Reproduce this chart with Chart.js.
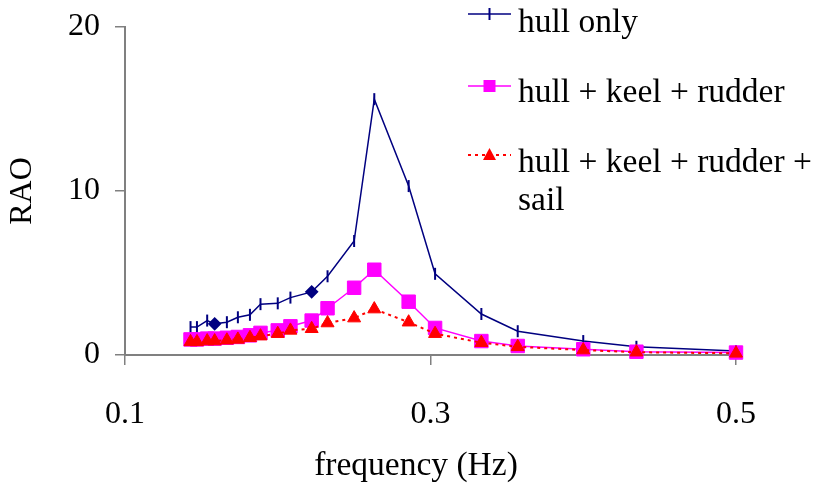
<!DOCTYPE html>
<html>
<head>
<meta charset="utf-8">
<script src="https://cdn.jsdelivr.net/npm/chart.js@4"></script>
<style>
  body { margin: 0; background: #fff; }
  canvas { display: block; }
</style>
</head>
<body>
<canvas id="raoChart" width="816" height="483"></canvas>
<script>
// frequencies (Hz) of the measured points
var frequency = [0.1429, 0.1471, 0.1538, 0.1587, 0.1667, 0.1739, 0.1818, 0.1887, 0.2, 0.2083, 0.2222,
                 0.2326, 0.25, 0.2632, 0.2857, 0.303, 0.3333, 0.3571, 0.4, 0.4348, 0.5];
var hullOnly = [1.7, 1.7, 2.1, 1.9, 2.0, 2.3, 2.45, 3.1, 3.15, 3.5, 3.85,
                4.8, 6.95, 15.6, 10.3, 4.95, 2.5, 1.45, 0.85, 0.5, 0.25];
var hullKeelRudder = [0.95, 0.95, 1.0, 1.0, 1.05, 1.1, 1.2, 1.35, 1.5, 1.75, 2.1,
                      2.85, 4.1, 5.2, 3.25, 1.65, 0.85, 0.55, 0.35, 0.2, 0.15];
var hullKeelRudderSail = [0.8, 0.8, 0.85, 0.85, 0.9, 0.95, 1.05, 1.15, 1.3, 1.5, 1.6,
                          1.95, 2.25, 2.8, 2.0, 1.3, 0.75, 0.5, 0.3, 0.17, 0.1];
var seriesNames = ['hull only', 'hull + keel + rudder', ['hull + keel + rudder +', 'sail']];
var xTicks = [0.1, 0.3, 0.5];
var yTicks = [0, 10, 20];
var xTitle = 'frequency (Hz)';
// points drawn as diamonds in the hull only series
var diamondIdx = [3, 10];

var FONT = "'Liberation Serif', 'Times New Roman', serif";
var NAVY = '#000080', PINK = '#FF00FF', RED = '#FF0000';

function toXY(ys) {
    return ys.map(function (v, i) { return { x: frequency[i], y: v }; });
}

var hullStyle = frequency.map(function (f, i) { return diamondIdx.indexOf(i) >= 0 ? 'rectRot' : 'line'; });
var hullRot = frequency.map(function (f, i) { return diamondIdx.indexOf(i) >= 0 ? 0 : 90; });
var hullRad = frequency.map(function (f, i) { return diamondIdx.indexOf(i) >= 0 ? 5.5 : 6; });

// legend drawn on the right, overlapping the plot like the original
var sideLegend = {
    id: 'sideLegend',
    afterDraw: function (chart) {
        var ctx = chart.ctx;
        var symY = [14, 86, 155];
        var baseY = [32, 102, 172];
        ctx.save();
        chart.data.datasets.forEach(function (ds, i) {
            var y = symY[i];
            ctx.beginPath();
            ctx.strokeStyle = ds.borderColor;
            ctx.lineWidth = ds.borderWidth;
            ctx.setLineDash(ds.borderDash || []);
            ctx.moveTo(468, y);
            ctx.lineTo(511, y);
            ctx.stroke();
            ctx.setLineDash([]);
            ctx.fillStyle = ds.borderColor;
            ctx.strokeStyle = ds.borderColor;
            ctx.lineWidth = 2;
            ctx.beginPath();
            if (i === 0) {
                ctx.moveTo(489.5, y - 6);
                ctx.lineTo(489.5, y + 6);
                ctx.stroke();
            } else if (i === 1) {
                ctx.fillRect(483.5, y - 6, 12, 12);
            } else {
                ctx.moveTo(489.5, y - 7);
                ctx.lineTo(496, y + 5);
                ctx.lineTo(483, y + 5);
                ctx.closePath();
                ctx.fill();
            }
            ctx.fillStyle = '#000';
            ctx.font = '33.5px ' + FONT;
            ctx.textAlign = 'left';
            ctx.textBaseline = 'alphabetic';
            var lines = [].concat(seriesNames[i]);
            lines.forEach(function (t, k) {
                ctx.fillText(t, 518, baseY[i] + k * 38);
            });
        });
        // x axis title, sits a little left of the plot centre in the original
        ctx.textAlign = 'center';
        ctx.textBaseline = 'middle';
        ctx.fillText(xTitle, 416, 466);
        ctx.restore();
    }
};

var ctx = document.getElementById('raoChart').getContext('2d');
window.raoChart = new Chart(ctx, {
    type: 'line',
    data: {
        datasets: [
            {
                label: 'hull only',
                data: toXY(hullOnly),
                borderColor: NAVY,
                borderWidth: 1.5,
                pointStyle: hullStyle,
                pointRotation: hullRot,
                pointRadius: hullRad,
                pointBackgroundColor: NAVY,
                pointBorderColor: NAVY,
                pointBorderWidth: 2,
                clip: false,
                order: 3
            },
            {
                label: 'hull + keel + rudder',
                data: toXY(hullKeelRudder),
                borderColor: PINK,
                borderWidth: 1.5,
                pointStyle: 'rect',
                pointRadius: 9.5,
                pointBackgroundColor: PINK,
                pointBorderColor: PINK,
                pointBorderWidth: 1,
                clip: false,
                order: 2
            },
            {
                label: 'hull + keel + rudder + sail',
                data: toXY(hullKeelRudderSail),
                borderColor: RED,
                borderWidth: 2,
                borderDash: [3, 4],
                pointStyle: 'triangle',
                pointRadius: 7.5,
                pointBackgroundColor: RED,
                pointBorderColor: RED,
                pointBorderWidth: 1,
                clip: false,
                order: 1
            }
        ]
    },
    options: {
        responsive: false,
        animation: false,
        layout: { padding: { top: 27, right: 80, left: 0, bottom: 0 } },
        elements: { line: { tension: 0 } },
        plugins: {
            legend: { display: false },
            tooltip: { enabled: false }
        },
        scales: {
            x: {
                type: 'linear',
                min: 0.1,
                max: 0.5,
                afterBuildTicks: function (scale) {
                    scale.ticks = xTicks.map(function (v) { return { value: v }; });
                },
                afterFit: function (scale) {
                    scale.height = 128;
                    scale.paddingLeft = 0;
                    scale.paddingRight = 0;
                },
                ticks: {
                    color: '#000',
                    padding: 30,
                    maxRotation: 0,
                    font: { family: FONT, size: 32 },
                    callback: function (v) { return v.toFixed(1); }
                },
                grid: { drawOnChartArea: false, color: '#808080', tickLength: 10, lineWidth: 1.5 },
                border: { color: '#808080', width: 2 }
            },
            y: {
                min: 0,
                max: 20,
                afterBuildTicks: function (scale) {
                    scale.ticks = yTicks.map(function (v) { return { value: v }; });
                },
                afterFit: function (scale) {
                    scale.width = 125;
                    scale.paddingTop = 0;
                    scale.paddingBottom = 0;
                },
                ticks: {
                    color: '#000',
                    padding: 15,
                    font: { family: FONT, size: 32 }
                },
                grid: { drawOnChartArea: false, color: '#808080', tickLength: 10, lineWidth: 1.5 },
                border: { color: '#808080', width: 2 },
                title: {
                    display: true,
                    text: 'RAO',
                    color: '#000',
                    font: { family: FONT, size: 32, lineHeight: 1.2 },
                    padding: { top: 3, bottom: 0 }
                }
            }
        }
    },
    plugins: [sideLegend]
});
</script>
</body>
</html>
